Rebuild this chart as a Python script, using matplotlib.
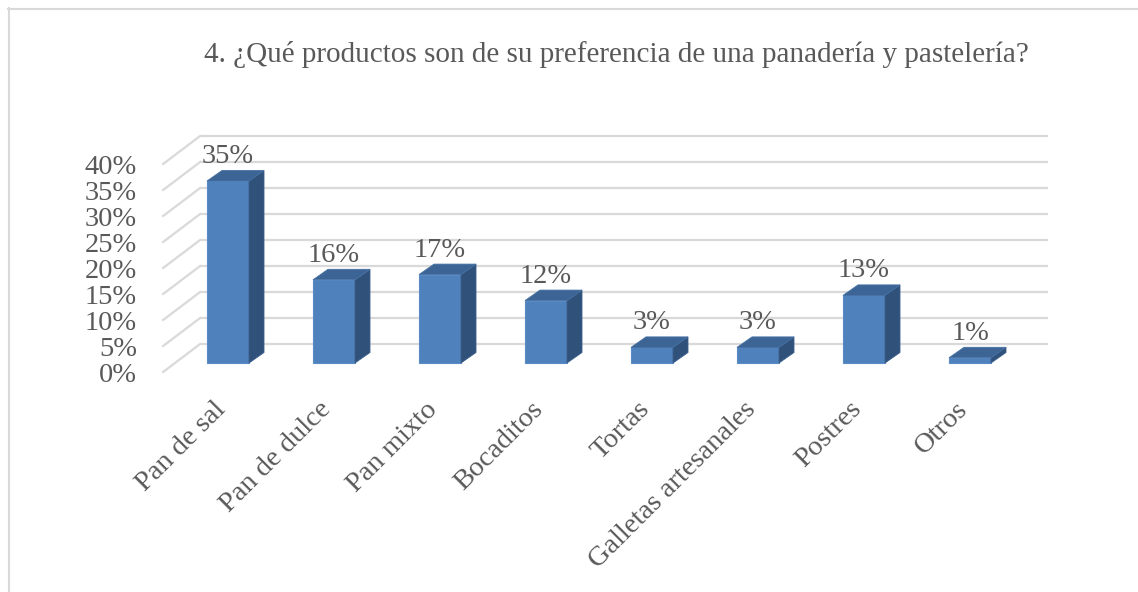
import matplotlib
matplotlib.use("Agg")
import matplotlib.pyplot as plt
from matplotlib.patches import Polygon
from matplotlib.lines import Line2D

plt.rcParams['font.family'] = ['Liberation Serif', 'DejaVu Serif']

# ---- data ----
categories = ["Pan de sal", "Pan de dulce", "Pan mixto", "Bocaditos", "Tortas",
              "Galletas artesanales", "Postres", "Otros"]
values = [35, 16, 17, 12, 3, 3, 13, 1]
value_labels = ["35%", "16%", "17%", "12%", "3%", "3%", "13%", "1%"]
yticks = [0, 5, 10, 15, 20, 25, 30, 35, 40]
ytick_labels = ["0%", "5%", "10%", "15%", "20%", "25%", "30%", "35%", "40%"]
title = "4. ¿Qué productos son de su preferencia de una panadería y pastelería?"

# ---- style / layout ----
W, H = 1138, 592
X0, DXPX = 228.0, 106.0      # pixel x of category 0, pixels per category
Y0, DYPX = 363.0, 5.2        # pixel y of value 0 (bar front plane), pixels per %
TEXT = "#595959"
GRID = "#D9D9D9"
FRONT = "#4F81BD"
TOP = "#3C6595"
SIDE = "#30517A"
FS = 20.5
FS_TITLE = 21

# oblique depth (full depth front plane -> back wall) in data units
depth_dx = 37.0 / DXPX
depth_dy = 28.0 / DYPX
f_bar = 0.32                 # bar front plane position within depth
back_dx, back_dy = (1 - f_bar) * depth_dx, (1 - f_bar) * depth_dy
front_dx, front_dy = -f_bar * depth_dx, -f_bar * depth_dy
bar_ddx, bar_ddy = 15.0 / DXPX, 10.5 / DYPX
bar_w = 42.0 / DXPX

fig = plt.figure(figsize=(W / 100, H / 100), dpi=100)
ax = fig.add_axes([0, 0, 1, 1])
ax.set_xlim((0 - X0) / DXPX, (W - X0) / DXPX)
ax.set_ylim((Y0 - H) / DYPX, Y0 / DYPX)
ax.axis("off")

n = len(categories)
xl, xr = -0.5, n - 0.5

# back wall gridlines and side-wall diagonals
for v, lab in zip(yticks, ytick_labels):
    ax.plot([xl + back_dx, xr + back_dx], [v + back_dy, v + back_dy],
            color=GRID, lw=1.6, zorder=1, solid_capstyle="butt")
    ax.plot([xl + back_dx, xl + front_dx], [v + back_dy, v + front_dy],
            color=GRID, lw=1.6, zorder=1)
    ax.text(xl + front_dx - 26.0 / DXPX, v + front_dy - 2.0, lab, ha="right", va="baseline",
            fontsize=FS, color=TEXT)

# bars
xs = list(range(n))
ax.bar(xs, values, width=bar_w, color=FRONT, edgecolor="#5A8BC6", linewidth=0.8, zorder=3)
hw = bar_w / 2
for x, v, lab in zip(xs, values, value_labels):
    side = Polygon([(x + hw, 0), (x + hw + bar_ddx, bar_ddy),
                    (x + hw + bar_ddx, v + bar_ddy), (x + hw, v)],
                   closed=True, facecolor=SIDE, edgecolor="#3A5F8C", lw=0.6, zorder=3)
    top = Polygon([(x - hw, v), (x + hw, v), (x + hw + bar_ddx, v + bar_ddy),
                   (x - hw + bar_ddx, v + bar_ddy)],
                  closed=True, facecolor=TOP, edgecolor="#4570A3", lw=0.6, zorder=3)
    ax.add_patch(side)
    ax.add_patch(top)
    ax.text(x, v + bar_ddy + 1.45, lab, ha="center", va="baseline",
            fontsize=FS, color=TEXT, zorder=4)

# category labels
for x, c in zip(xs, categories):
    ax.text(x - 0.06, -8.2, c, rotation=45, rotation_mode="anchor",
            ha="right", va="center", fontsize=FS, color=TEXT)

# title
fig.text(616.5 / W, 1 - 62.0 / H, title, ha="center", va="baseline",
         fontsize=FS_TITLE, color=TEXT)

# chart border (left and top visible)
fig.add_artist(Line2D([8.5 / W, 8.5 / W], [0, 1 - 8.0 / H], transform=fig.transFigure,
                      color=GRID, lw=1.5))
fig.add_artist(Line2D([8.0 / W, 1], [1 - 8.5 / H, 1 - 8.5 / H], transform=fig.transFigure,
                      color=GRID, lw=1.5))

fig.savefig("out.png", dpi=100)
